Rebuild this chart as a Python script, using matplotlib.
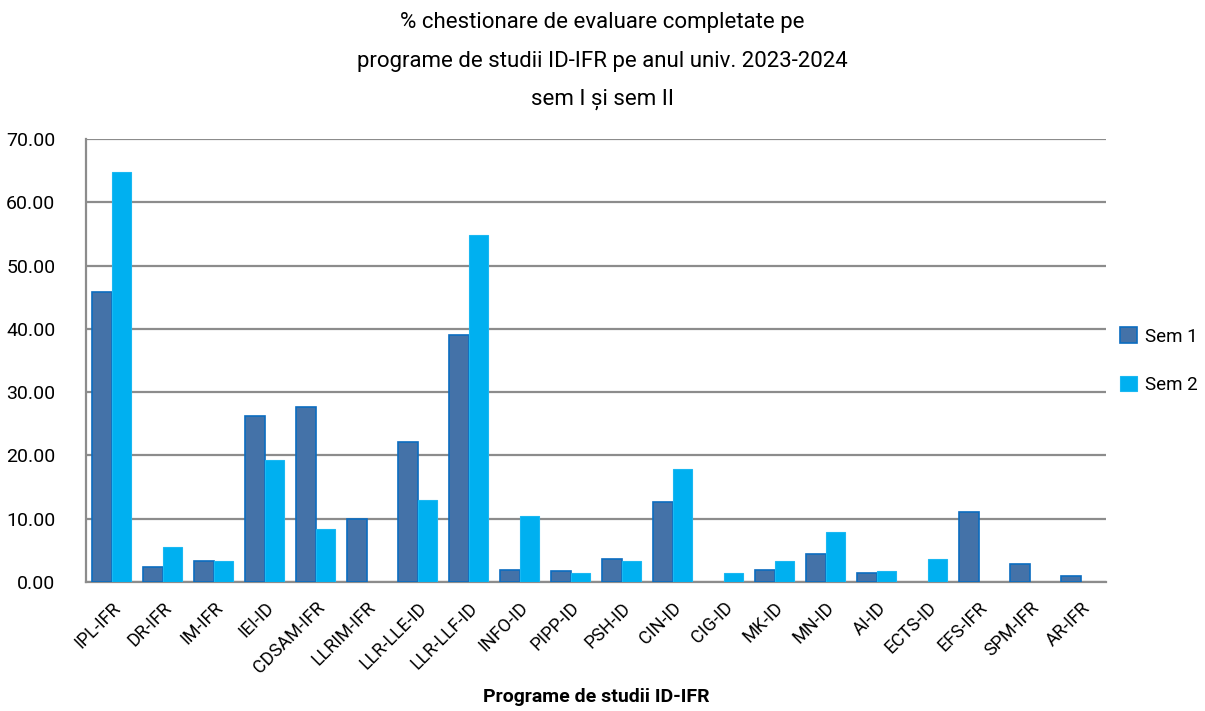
import numpy as np
import matplotlib.pyplot as plt

# Date (% chestionare completate)
programe = ['IPL-IFR', 'DR-IFR', 'IM-IFR', 'IEI-ID', 'CDSAM-IFR', 'LLRIM-IFR',
            'LLR-LLE-ID', 'LLR-LLF-ID', 'INFO-ID', 'PIPP-ID', 'PSH-ID', 'CIN-ID',
            'CIG-ID', 'MK-ID', 'MN-ID', 'AI-ID', 'ECTS-ID', 'EFS-IFR', 'SPM-IFR', 'AR-IFR']
sem1 = [45.8, 2.3, 3.4, 26.3, 27.6, 10.0, 22.2, 39.1, 1.9, 1.7,
        3.7, 12.6, 0.0, 1.9, 4.5, 1.4, 0.0, 11.0, 2.8, 1.0]
sem2 = [64.8, 5.6, 3.4, 19.3, 8.3, 0.0, 13.0, 54.9, 10.5, 1.5,
        3.3, 17.9, 1.5, 3.3, 7.9, 1.8, 3.6, 0.0, 0.0, 0.0]
yticks = np.arange(0, 71, 10)

plt.rcParams['font.family'] = ['Roboto', 'DejaVu Sans']

fig = plt.figure(figsize=(12.05, 7.11), dpi=100)
ax = fig.add_axes([0.0714, 0.1814, 0.8465, 0.6231])

x = np.arange(len(programe))
w = 0.375
# fara contur pentru valorile zero
lw1 = [1.2 if v > 0 else 0 for v in sem1]
lw2 = [0.8 if v > 0 else 0 for v in sem2]
ax.bar(x - w / 2, sem1, w, color='#4472A8', edgecolor='#0B6CC0', linewidth=lw1, label='Sem 1', zorder=3)
ax.bar(x + w / 2, sem2, w, color='#00B0F0', edgecolor='#1AB8F2', linewidth=lw2, label='Sem 2', zorder=3)

ax.set_xlim(-0.5, len(programe) - 0.5)
ax.set_ylim(0, 70)
ax.set_yticks(yticks)
ax.set_yticklabels([f'{v:.2f}' for v in yticks], fontsize=14)
ax.yaxis.grid(True, color='#8C8C8C', linewidth=1.6, zorder=0)
ax.tick_params(axis='both', length=0)
ax.tick_params(axis='y', pad=22)
ax.set_xticks(x)
ax.set_xticklabels(programe, rotation=45, ha='right', rotation_mode='anchor', fontsize=13)
ax.tick_params(axis='x', pad=12)

for s in ['top', 'right']:
    ax.spines[s].set_visible(False)
for s in ['left', 'bottom']:
    ax.spines[s].set_color('#8C8C8C')
    ax.spines[s].set_linewidth(1.6)

ax.set_xlabel('Programe de studii ID-IFR', fontsize=14, fontweight='bold', labelpad=8)

fig.text(0.5, 0.968, '% chestionare de evaluare completate pe', ha='center', va='center', fontsize=16)
fig.text(0.5, 0.914, 'programe de studii ID-IFR pe anul univ. 2023-2024', ha='center', va='center', fontsize=16)
fig.text(0.5, 0.860, 'sem I și sem II', ha='center', va='center', fontsize=16)

ax.legend(loc='center left', bbox_to_anchor=(1.014, 0.5), borderaxespad=0, borderpad=0,
          frameon=False, fontsize=13.5, handlelength=0.9, handleheight=0.9,
          labelspacing=1.6, handletextpad=0.4)

fig.savefig('out.png', dpi=100)
